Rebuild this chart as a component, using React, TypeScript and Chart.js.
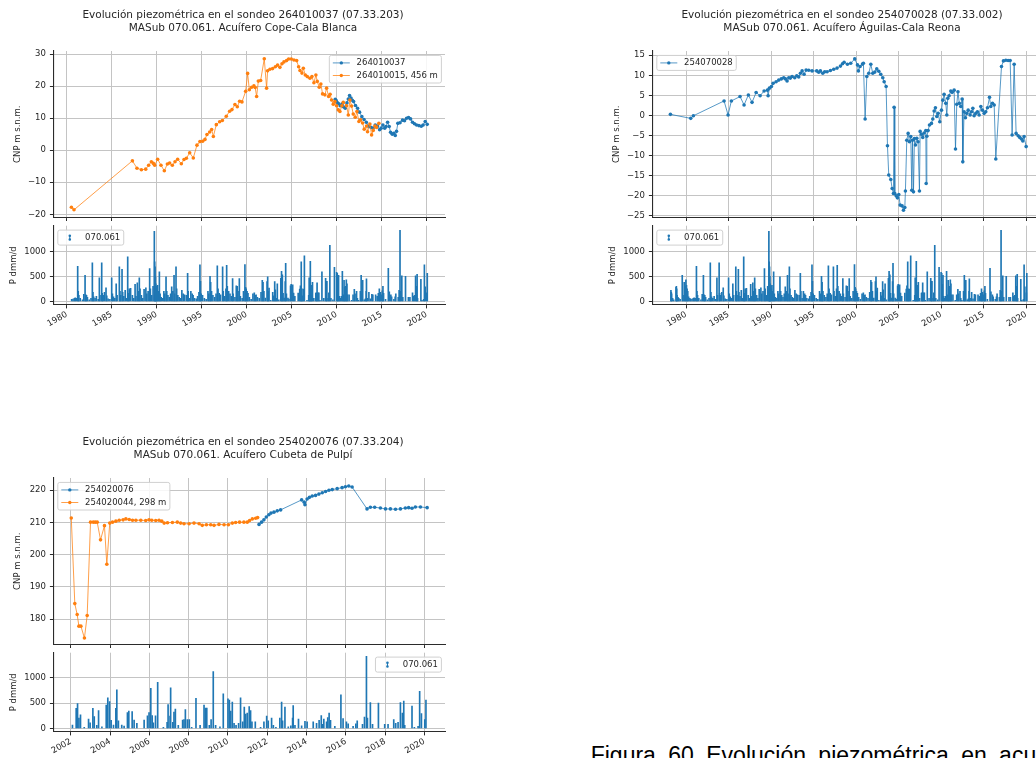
import React, { useEffect, useRef } from 'react';
import { Chart, registerables } from 'chart.js';

Chart.register(...registerables);

type Pt = [number, number];

// ---------- colours / fonts ----------
const BLUE = '#1f77b4';
const ORANGE = '#ff7f0e';
const BLUE_LINE = 'rgba(31,119,180,0.75)';
const ORANGE_LINE = 'rgba(255,127,14,0.75)';
const TXT = '#262626';
const GRID = '#c4c4c4';
const SPINE = '#2b2b2b';
const FONT = '"DejaVu Sans", sans-serif';
const FS = 8.5;

// ---------- titles ----------
const TITLE_1 = ['Evolución piezométrica en el sondeo 264010037 (07.33.203)', 'MASub 070.061. Acuífero Cope-Cala Blanca'];
const TITLE_2 = ['Evolución piezométrica en el sondeo 254070028 (07.33.002)', 'MASub 070.061. Acuífero Águilas-Cala Reona'];
const TITLE_3 = ['Evolución piezométrica en el sondeo 254020076 (07.33.204)', 'MASub 070.061. Acuífero Cubeta de Pulpí'];
const Y_LABEL_CNP = 'CNP m s.n.m.';
const Y_LABEL_P = 'P dmm/d';
const RAIN_LABEL = '070.061';
const CAPTION = 'Figura 60 Evolución piezométrica en acuíferos';

// ---------- tick values ----------
const P_TICKS = [0, 500, 1000];

// ---------- piezometric series (decimal year, CNP m s.n.m.) ----------
const S_264010037: Pt[] = [
  [2009.85, 15.9], [2009.95, 15.5], [2010.05, 15.0], [2010.2, 14.6], [2010.4, 13.9], [2010.59, 14.4], [2010.75, 13.6],
  [2010.96, 13.1], [2011.15, 14.8], [2011.3, 16.0], [2011.44, 17.1], [2011.6, 16.3], [2011.75, 15.6], [2011.89, 15.2],
  [2012.1, 14.0], [2012.33, 13.1], [2012.55, 11.9], [2012.81, 10.5], [2013.05, 9.6], [2013.3, 8.75], [2013.55, 7.5],
  [2013.8, 7.2], [2014.04, 6.9], [2014.3, 7.9], [2014.55, 7.6], [2014.78, 6.4], [2014.95, 6.9], [2015.15, 7.9],
  [2015.35, 6.9], [2015.5, 7.4], [2015.67, 8.75], [2015.85, 7.4], [2016.0, 5.6], [2016.19, 5.0], [2016.35, 5.3],
  [2016.52, 4.6], [2016.66, 5.9], [2016.81, 8.4], [2017.05, 8.6], [2017.33, 9.4], [2017.55, 9.2], [2017.78, 10.0],
  [2018.0, 10.2], [2018.22, 9.8], [2018.44, 8.75], [2018.66, 8.3], [2018.89, 7.9], [2019.15, 7.7], [2019.41, 7.5],
  [2019.62, 7.9], [2019.85, 9.0], [2020.07, 8.1],
];

const S_264010015: Pt[] = [
  [1980.52, -17.8], [1980.81, -18.6], [1987.3, -3.3], [1987.81, -5.6], [1988.3, -6.1], [1988.78, -5.9], [1989.11, -4.7],
  [1989.41, -3.6], [1989.63, -4.1], [1989.78, -4.7], [1990.11, -2.8], [1990.48, -4.7], [1990.85, -6.4], [1991.19, -4.3],
  [1991.44, -4.0], [1991.74, -4.7], [1992.04, -3.6], [1992.33, -2.8], [1992.74, -4.2], [1993.04, -2.9], [1993.3, -2.5],
  [1993.67, -0.8], [1994.07, -2.4], [1994.48, 1.6], [1994.81, 2.7], [1995.11, 2.8], [1995.37, 3.4], [1995.59, 4.9],
  [1995.89, 5.7], [1996.11, 6.5], [1996.3, 4.3], [1996.63, 8.0], [1997.0, 8.9], [1997.3, 9.3], [1997.74, 10.6],
  [1998.11, 12.2], [1998.37, 12.7], [1998.7, 14.3], [1998.96, 13.6], [1999.22, 15.3], [1999.48, 15.1], [1999.89, 18.4],
  [2000.11, 24.0], [2000.3, 18.9], [2000.56, 19.7], [2000.81, 20.1], [2000.95, 19.6], [2001.11, 16.8], [2001.3, 21.6],
  [2001.56, 21.8], [2001.96, 28.6], [2002.22, 19.4], [2002.33, 24.8], [2002.59, 25.3], [2002.89, 25.5], [2003.19, 26.1],
  [2003.44, 26.6], [2003.7, 25.9], [2003.93, 27.0], [2004.15, 27.6], [2004.44, 28.0], [2004.67, 28.5], [2004.96, 28.5],
  [2005.26, 28.2], [2005.56, 28.0], [2005.78, 26.1], [2005.93, 24.9], [2006.15, 24.1], [2006.3, 25.6], [2006.52, 23.5],
  [2006.74, 23.0], [2007.04, 22.5], [2007.26, 23.0], [2007.48, 21.1], [2007.7, 23.5], [2007.85, 21.5], [2008.07, 19.7],
  [2008.25, 20.7], [2008.44, 17.6], [2008.7, 17.3], [2008.89, 19.4], [2009.11, 16.8], [2009.28, 17.5], [2009.44, 15.7],
  [2009.63, 14.4], [2009.81, 15.2], [2010.0, 13.9], [2010.19, 12.6], [2010.37, 12.1], [2010.59, 13.9], [2010.74, 15.0],
  [2011.11, 13.9], [2011.3, 11.0], [2011.48, 15.7], [2011.67, 13.8], [2011.85, 11.3], [2012.07, 10.3], [2012.26, 12.1],
  [2012.48, 9.0], [2012.67, 9.5], [2012.89, 8.5], [2013.07, 6.6], [2013.33, 7.6], [2013.44, 5.8], [2013.7, 8.2],
  [2013.89, 4.8], [2014.07, 6.2], [2014.26, 7.6], [2014.44, 7.1], [2014.7, 8.4],
];

const S_254070028: Pt[] = [
  [1978.16, 0.25], [1980.55, -0.75], [1980.86, -0.1], [1984.47, 3.6], [1984.94, 0.1], [1985.33, 3.6], [1986.35, 4.7],
  [1986.82, 2.6], [1987.33, 5.1], [1987.76, 3.25], [1988.24, 5.7], [1988.71, 4.9], [1989.18, 6.1], [1989.57, 6.3],
  [1989.65, 4.9], [1989.8, 6.8], [1990.04, 7.2], [1990.24, 8.0], [1990.59, 8.4], [1990.9, 8.8], [1991.2, 9.1],
  [1991.49, 9.4], [1991.69, 9.1], [1991.88, 8.6], [1992.08, 9.4], [1992.27, 9.3], [1992.47, 9.7], [1992.78, 9.4],
  [1993.02, 9.9], [1993.25, 9.6], [1993.45, 10.5], [1993.65, 11.1], [1993.88, 10.25], [1994.12, 11.3], [1994.43, 11.25],
  [1994.82, 11.1], [1995.37, 11.1], [1995.6, 10.75], [1995.8, 11.1], [1996.08, 10.5], [1996.31, 10.9], [1996.59, 10.9],
  [1996.98, 11.2], [1997.37, 11.5], [1997.76, 11.8], [1998.16, 12.3], [1998.4, 12.9], [1998.59, 13.25], [1998.98, 12.75],
  [1999.37, 13.0], [1999.84, 14.1], [2000.16, 12.6], [2000.27, 11.1], [2000.47, 12.2], [2000.75, 12.8], [2000.86, 13.0],
  [2001.06, -0.9], [2001.26, 9.7], [2001.49, 10.5], [2001.73, 12.75], [2001.96, 10.5], [2002.2, 10.8], [2002.43, 11.6],
  [2002.67, 11.0], [2002.9, 10.25], [2003.14, 9.4], [2003.3, 8.4], [2003.53, 7.2], [2003.69, -7.6], [2003.84, -14.9],
  [2004.08, -16.0], [2004.24, -18.25], [2004.39, -19.5], [2004.47, 2.0], [2004.55, -19.5], [2004.71, -20.1],
  [2004.86, -20.6], [2005.02, -19.75], [2005.18, -22.4], [2005.41, -22.6], [2005.57, -23.7], [2005.73, -23.0],
  [2005.8, -18.9], [2005.96, -6.2], [2006.12, -4.5], [2006.27, -6.6], [2006.43, -5.3], [2006.55, -18.7], [2006.63, -6.2],
  [2006.75, -19.1], [2006.86, -5.8], [2006.98, -7.4], [2007.14, -5.7], [2007.29, -6.6], [2007.45, -18.9], [2007.53, -4.0],
  [2007.69, -4.7], [2007.84, -5.5], [2008.0, -4.4], [2008.2, -3.8], [2008.24, -17.0], [2008.32, -5.2], [2008.47, -3.8],
  [2008.63, -2.4], [2008.86, -2.0], [2009.02, -0.9], [2009.18, 1.1], [2009.33, 1.9], [2009.49, -0.3], [2009.65, 0.5],
  [2009.84, -1.6], [2010.04, 1.3], [2010.2, 3.8], [2010.35, 5.25], [2010.55, 3.0], [2010.67, 0.1], [2010.78, 4.25],
  [2010.94, 4.9], [2011.14, 6.1], [2011.29, 5.75], [2011.53, 6.3], [2011.69, -8.4], [2011.84, 2.75], [2011.98, 5.9],
  [2012.14, 3.0], [2012.31, 2.2], [2012.47, 4.1], [2012.55, -11.6], [2012.7, 0.9], [2012.86, -0.6], [2013.02, 0.5],
  [2013.18, 1.3], [2013.41, 0.1], [2013.57, 0.9], [2013.73, 1.75], [2013.88, -0.1], [2014.08, 0.5], [2014.27, 0.9],
  [2014.47, 0.1], [2014.67, 2.2], [2014.86, 1.3], [2015.06, 0.5], [2015.25, 0.9], [2015.45, 1.9], [2015.69, 4.5],
  [2015.84, 2.2], [2016.04, 3.0], [2016.24, 2.6], [2016.43, -10.9], [2017.1, 12.2], [2017.33, 13.6], [2017.61, 13.75],
  [2017.88, 13.7], [2018.12, 13.7], [2018.35, -4.9], [2018.59, 12.75], [2018.82, -4.5], [2019.06, -5.1], [2019.25, -5.5],
  [2019.45, -5.9], [2019.61, -6.4], [2019.76, -5.3], [2020.0, -7.8],
];

const S_254020076: Pt[] = [
  [2011.58, 209.4], [2011.71, 210.1], [2011.83, 210.8], [2011.95, 211.7], [2012.08, 212.4], [2012.19, 212.9],
  [2012.34, 213.2], [2012.51, 213.6], [2012.68, 213.9], [2013.75, 217.0], [2013.88, 216.3], [2013.92, 215.5],
  [2014.03, 217.3], [2014.15, 217.8], [2014.29, 218.2], [2014.46, 218.4], [2014.63, 218.8], [2014.8, 219.2],
  [2014.97, 219.6], [2015.14, 220.0], [2015.31, 220.2], [2015.56, 220.5], [2015.81, 220.8], [2015.98, 221.1],
  [2016.15, 221.3], [2016.32, 221.0], [2017.08, 214.2], [2017.25, 214.7], [2017.47, 214.7], [2017.76, 214.5],
  [2018.02, 214.2], [2018.27, 214.2], [2018.53, 214.1], [2018.78, 214.2], [2019.03, 214.5], [2019.2, 214.6],
  [2019.37, 214.4], [2019.54, 214.8], [2019.8, 214.8], [2020.14, 214.6],
];

const S_254020044: Pt[] = [
  [2002.02, 211.4], [2002.2, 184.8], [2002.32, 181.4], [2002.41, 177.8], [2002.51, 177.8], [2002.69, 174.1],
  [2002.83, 181.1], [2003.0, 210.1], [2003.14, 210.1], [2003.24, 210.1], [2003.34, 210.1], [2003.51, 204.6],
  [2003.71, 209.0], [2003.83, 197.0], [2003.98, 209.8], [2004.12, 210.1], [2004.29, 210.4], [2004.46, 210.7],
  [2004.66, 210.8], [2004.8, 211.1], [2004.97, 210.9], [2005.14, 210.7], [2005.31, 210.7], [2005.56, 210.7],
  [2005.81, 210.6], [2005.98, 210.8], [2006.12, 210.7], [2006.32, 210.6], [2006.49, 210.7], [2006.63, 210.4],
  [2006.75, 209.8], [2006.92, 209.9], [2007.17, 210.0], [2007.42, 210.1], [2007.59, 209.8], [2007.76, 209.6],
  [2008.02, 209.6], [2008.27, 209.8], [2008.53, 209.6], [2008.69, 209.1], [2008.9, 209.3], [2009.12, 209.3],
  [2009.29, 209.1], [2009.54, 209.4], [2009.8, 209.3], [2010.02, 209.3], [2010.22, 209.8], [2010.39, 210.0],
  [2010.59, 210.1], [2010.81, 210.1], [2010.98, 210.1], [2011.1, 210.6], [2011.24, 211.1], [2011.41, 211.3],
  [2011.51, 211.5],
];

// ---------- precipitation 070.061 (decimal year, dmm/d) ----------
const RAIN_070061: Pt[] = [
  [1978.22, 220], [1978.26, 180], [1978.3, 150], [1978.42, 60], [1978.55, 30], [1978.82, 280], [1978.86, 300], [1978.9, 250], [1978.95, 120],
  [1979.05, 80], [1979.15, 60], [1979.3, 40], [1979.55, 520], [1979.65, 120], [1979.78, 380], [1979.88, 300], [1979.98, 430],
  [1980.05, 320], [1980.12, 250], [1980.2, 200], [1980.3, 90], [1980.45, 60], [1980.55, 40], [1980.7, 45], [1980.85, 60], [1980.95, 70],
  [1981.08, 60], [1981.22, 700], [1981.28, 200], [1981.35, 120], [1981.5, 60], [1981.75, 30], [1981.9, 140],
  [1982.04, 520], [1982.12, 130], [1982.2, 120], [1982.3, 80], [1982.5, 30], [1982.7, 60], [1982.85, 770], [1982.92, 180],
  [1983.0, 90], [1983.15, 60], [1983.3, 100], [1983.5, 40], [1983.63, 470], [1983.7, 120], [1983.89, 770], [1983.95, 160],
  [1984.05, 120], [1984.2, 180], [1984.37, 270], [1984.45, 110], [1984.6, 50], [1984.8, 40],
  [1985.0, 470], [1985.08, 150], [1985.2, 90], [1985.35, 60], [1985.5, 350], [1985.6, 120], [1985.85, 690], [1985.92, 200],
  [1986.0, 120], [1986.15, 640], [1986.22, 180], [1986.35, 100], [1986.5, 220], [1986.65, 60], [1986.78, 890], [1986.85, 160], [1986.95, 250],
  [1987.1, 260], [1987.3, 120], [1987.45, 60], [1987.6, 340], [1987.7, 100], [1987.85, 370], [1987.95, 200],
  [1988.07, 470], [1988.15, 250], [1988.3, 120], [1988.45, 60], [1988.6, 240], [1988.8, 270], [1988.9, 150],
  [1989.05, 200], [1989.22, 655], [1989.3, 250], [1989.45, 120], [1989.6, 300], [1989.74, 1400], [1989.78, 790], [1989.82, 690], [1989.86, 500], [1989.9, 350], [1989.95, 300],
  [1990.02, 250], [1990.1, 320], [1990.2, 200], [1990.3, 590], [1990.38, 150], [1990.5, 80], [1990.65, 60], [1990.8, 200], [1990.9, 150],
  [1991.04, 490], [1991.12, 200], [1991.25, 120], [1991.4, 80], [1991.55, 150], [1991.67, 290], [1991.8, 200], [1991.93, 520],
  [1992.0, 150], [1992.15, 690], [1992.22, 250], [1992.35, 120], [1992.5, 80], [1992.65, 60], [1992.8, 220], [1992.95, 150],
  [1993.1, 130], [1993.3, 120], [1993.44, 560], [1993.5, 200], [1993.65, 60], [1993.8, 200], [1993.95, 150],
  [1994.05, 120], [1994.2, 60], [1994.4, 50], [1994.55, 100], [1994.7, 180], [1994.81, 730], [1994.87, 400], [1994.95, 150],
  [1995.1, 120], [1995.3, 60], [1995.5, 40], [1995.7, 200], [1995.8, 150], [1995.93, 500],
  [1996.0, 380], [1996.1, 200], [1996.25, 120], [1996.45, 80], [1996.6, 150], [1996.74, 710], [1996.82, 250], [1996.95, 160],
  [1997.1, 130], [1997.33, 690], [1997.4, 200], [1997.55, 100], [1997.7, 250], [1997.78, 720], [1997.85, 300],
  [1998.0, 200], [1998.15, 150], [1998.3, 100], [1998.44, 455], [1998.5, 150], [1998.7, 80], [1998.85, 310], [1998.95, 300],
  [1999.05, 200], [1999.19, 455], [1999.3, 100], [1999.5, 60], [1999.65, 200], [1999.81, 735], [1999.88, 280], [1999.95, 250],
  [2000.05, 200], [2000.15, 160], [2000.3, 80], [2000.5, 40], [2000.7, 150], [2000.85, 170], [2000.95, 120],
  [2001.05, 130], [2001.2, 80], [2001.4, 60], [2001.6, 180], [2001.74, 420], [2001.82, 380], [2001.92, 200],
  [2002.08, 65], [2002.27, 395], [2002.34, 490], [2002.41, 200], [2002.49, 265], [2002.68, 20], [2002.9, 180], [2002.98, 110],
  [2003.12, 395], [2003.19, 230], [2003.32, 60], [2003.41, 350], [2003.58, 30], [2003.8, 460], [2003.88, 600], [2003.97, 530],
  [2004.05, 160], [2004.17, 65], [2004.29, 395], [2004.34, 760], [2004.42, 150], [2004.59, 65], [2004.71, 45], [2004.88, 310], [2004.95, 340],
  [2005.12, 330], [2005.22, 165], [2005.36, 100], [2005.73, 165], [2005.9, 245], [2005.98, 310],
  [2006.07, 790], [2006.14, 250], [2006.2, 110], [2006.31, 245], [2006.42, 910], [2006.71, 20], [2006.9, 120], [2006.95, 470],
  [2007.05, 240], [2007.08, 800], [2007.19, 120], [2007.25, 320], [2007.32, 380], [2007.47, 60], [2007.69, 165], [2007.76, 170], [2007.83, 370], [2007.93, 170],
  [2008.03, 170], [2008.15, 20], [2008.37, 590], [2008.58, 60], [2008.78, 460], [2008.85, 400], [2008.92, 400],
  [2009.05, 60], [2009.14, 170], [2009.25, 1120], [2009.37, 60], [2009.59, 30], [2009.76, 680],
  [2010.0, 580], [2010.07, 560], [2010.14, 340], [2010.22, 520], [2010.31, 100], [2010.41, 60], [2010.54, 100], [2010.64, 600], [2010.75, 130], [2010.83, 420], [2010.9, 280], [2010.98, 300],
  [2011.08, 430], [2011.15, 350], [2011.22, 130], [2011.39, 130], [2011.66, 20], [2011.83, 130], [2011.97, 240],
  [2012.05, 150], [2012.22, 200], [2012.31, 60], [2012.44, 20], [2012.64, 200], [2012.73, 520], [2012.78, 150], [2012.9, 420],
  [2013.07, 30], [2013.2, 50], [2013.29, 200], [2013.32, 450], [2013.41, 60], [2013.59, 180], [2013.75, 50], [2013.92, 140],
  [2014.03, 130], [2014.34, 130], [2014.51, 100], [2014.64, 160], [2014.75, 250], [2014.81, 80], [2014.88, 180],
  [2015.02, 130], [2015.08, 210], [2015.15, 300], [2015.22, 160], [2015.44, 40], [2015.75, 660], [2015.86, 190],
  [2016.03, 130], [2016.12, 90], [2016.37, 40], [2016.51, 90], [2016.58, 150], [2016.85, 80], [2016.95, 220],
  [2017.05, 1420], [2017.1, 200], [2017.25, 510], [2017.36, 80], [2017.66, 500], [2017.98, 80],
  [2018.15, 80], [2018.44, 170], [2018.54, 100], [2018.66, 120], [2018.78, 510], [2018.88, 300], [2018.95, 540],
  [2019.0, 60], [2019.37, 440], [2019.49, 20], [2019.68, 40], [2019.76, 730], [2019.85, 290], [2020.02, 170], [2020.08, 560],
];

// ---------- helpers ----------
const toXY = (pts: Pt[]) => pts.map(([x, y]) => ({ x, y }));
const fmtNum = (v: any) => {
  const n = Number(v);
  return n < 0 ? '\u2212' + String(Math.abs(n)) : String(n);
};

const mplLegend = {
  id: 'mplLegend',
  afterDraw(chart: any, _args: any, opts: any) {
    if (!opts || !opts.show) return;
    const ctx = chart.ctx as CanvasRenderingContext2D;
    const area = chart.chartArea;
    ctx.save();
    ctx.font = `${FS}px ${FONT}`;
    const items = chart.data.datasets.map((d: any) => ({
      label: String(d.label),
      color: (d.pointBackgroundColor || d.backgroundColor) as string,
      line: (d.borderColor || d.backgroundColor) as string,
    }));
    const pad = 3.5, handle = 17, gap = 6.8, row = 12.6;
    const tw = Math.max(...items.map((i: any) => ctx.measureText(i.label).width));
    const w = pad * 2 + handle + gap + tw;
    const h = 2.4 + row * items.length;
    const x = opts.align === 'right' ? area.right - 3.6 - w : area.left + 4.4;
    const y = area.top + 4.4;
    ctx.beginPath();
    (ctx as any).roundRect(x, y, w, h, 2);
    ctx.fillStyle = 'rgba(255,255,255,0.85)';
    ctx.fill();
    ctx.strokeStyle = '#d0d0d0';
    ctx.lineWidth = 1;
    ctx.stroke();
    items.forEach((it: any, i: number) => {
      const cy = y + 1.2 + row * (i + 0.5);
      const hx = x + pad;
      const mx = hx + handle / 2;
      if (opts.kind === 'line') {
        ctx.strokeStyle = it.line;
        ctx.lineWidth = 1;
        ctx.beginPath();
        ctx.moveTo(hx, cy);
        ctx.lineTo(hx + handle, cy);
        ctx.stroke();
        ctx.fillStyle = it.color;
        ctx.beginPath();
        ctx.arc(mx, cy, 1.7, 0, Math.PI * 2);
        ctx.fill();
      } else {
        ctx.fillStyle = it.color;
        ctx.strokeStyle = it.color;
        ctx.lineWidth = 1;
        ctx.beginPath();
        ctx.moveTo(mx, cy - 2);
        ctx.lineTo(mx, cy + 2);
        ctx.stroke();
        ctx.beginPath();
        ctx.arc(mx, cy - 1.9, 1.3, 0, Math.PI * 2);
        ctx.arc(mx, cy + 1.9, 1.3, 0, Math.PI * 2);
        ctx.fill();
      }
      ctx.fillStyle = TXT;
      ctx.textAlign = 'left';
      ctx.textBaseline = 'middle';
      ctx.fillText(it.label, hx + handle + gap, cy);
    });
    ctx.restore();
  },
};

const Y_AXIS_W = 53.4;
const RIGHT_GAP = 41;
const LINE_H = 222;
const BAR_H = 108;

function gridOpts() {
  return { color: GRID, lineWidth: 1, drawTicks: true, tickLength: 3.5, tickColor: SPINE, tickWidth: 1, offset: false };
}
function borderOpts() {
  return { display: true, color: SPINE, width: 1.1 };
}

function xScale(min: number, max: number, step: number, labels: boolean, h: number) {
  return {
    type: 'linear',
    position: 'bottom',
    offset: false,
    min,
    max,
    afterFit: (s: any) => {
      s.height = h;
      s.paddingLeft = 0;
      s.paddingRight = 0;
      s.paddingTop = 0;
      s.paddingBottom = 0;
    },
    grid: gridOpts(),
    border: borderOpts(),
    ticks: {
      display: labels,
      stepSize: step,
      includeBounds: false,
      autoSkip: false,
      minRotation: 30,
      maxRotation: 30,
      padding: 1,
      color: TXT,
      font: { family: FONT, size: FS },
      callback: (v: any) => String(v),
    },
  };
}

function yScale(min: number, max: number, step: number, title: string, titlePad: number, fixedTicks?: number[]) {
  return {
    type: 'linear',
    position: 'left',
    offset: false,
    min,
    max,
    afterBuildTicks: fixedTicks
      ? (s: any) => { s.ticks = fixedTicks.map((v) => ({ value: v })); }
      : undefined,
    afterFit: (s: any) => {
      s.width = Y_AXIS_W;
      s.paddingTop = 0;
      s.paddingBottom = 0;
      s.paddingLeft = 0;
      s.paddingRight = 0;
    },
    grid: gridOpts(),
    border: borderOpts(),
    ticks: {
      stepSize: step,
      includeBounds: false,
      padding: 4,
      color: TXT,
      font: { family: FONT, size: FS },
      callback: fmtNum,
    },
    title: {
      display: true,
      text: title,
      color: TXT,
      font: { family: FONT, size: FS },
      padding: { top: titlePad, bottom: 0 },
    },
  };
}

type Series = { label: string; color: string; line: string; pts: Pt[] };

type PanelSpec = {
  title: string[];
  xMin: number; xMax: number; xStep: number;
  yMin: number; yMax: number; yStep: number;
  series: Series[];
  lineLegend: 'left' | 'right';
  rainStart: number;
  pMin: number; pMax: number;
  barLegend: 'left' | 'right';
};

function lineConfig(p: PanelSpec): any {
  return {
    type: 'line',
    data: {
      datasets: p.series.map((s, i) => ({
        label: s.label,
        data: toXY(s.pts),
        borderColor: s.line,
        backgroundColor: s.color,
        pointBackgroundColor: s.color,
        pointBorderWidth: 0,
        pointRadius: 1.8,
        borderWidth: 1,
        tension: 0,
        fill: false,
        order: p.series.length - i,
      })),
    },
    options: {
      animation: false,
      responsive: false,
      devicePixelRatio: 1,
      layout: { padding: 0, autoPadding: false },
      plugins: {
        legend: { display: false },
        tooltip: { enabled: false },
        title: {
          display: true,
          text: p.title,
          color: TXT,
          font: { family: FONT, size: 10.5, weight: 'normal', lineHeight: 1.267 },
          padding: { top: 8.5, bottom: 15.9 },
        },
        mplLegend: { show: true, kind: 'line', align: p.lineLegend },
      },
      scales: {
        x: xScale(p.xMin, p.xMax, p.xStep, false, LINE_H - 217.5),
        y: yScale(p.yMin, p.yMax, p.yStep, Y_LABEL_CNP, 12.2),
        yR: {
          type: 'linear',
          position: 'right',
          display: true,
          afterFit: (s: any) => { s.width = RIGHT_GAP; s.paddingTop = 0; s.paddingBottom = 0; },
          grid: { display: false, drawTicks: false },
          border: { display: false },
          ticks: { display: false },
        },
      },
    },
    plugins: [mplLegend],
  };
}

function barConfig(p: PanelSpec): any {
  return {
    type: 'bar',
    data: {
      datasets: [{
        label: RAIN_LABEL,
        data: toXY(RAIN_070061.filter(([d]) => d >= p.rainStart)),
        backgroundColor: BLUE,
        borderWidth: 0,
        barThickness: 1,
      }],
    },
    options: {
      animation: false,
      responsive: false,
      devicePixelRatio: 1,
      layout: { padding: { top: 3.7, right: RIGHT_GAP, left: 0, bottom: 0 }, autoPadding: false },
      plugins: {
        legend: { display: false },
        tooltip: { enabled: false },
        mplLegend: { show: true, kind: 'bar', align: p.barLegend },
      },
      scales: {
        x: xScale(p.xMin, p.xMax, p.xStep, true, BAR_H - 82.9),
        y: yScale(p.pMin, p.pMax, 500, Y_LABEL_P, 8.9, P_TICKS),
      },
    },
    plugins: [mplLegend],
  };
}

const PANEL_1: PanelSpec = {
  title: TITLE_1,
  xMin: 1978.52, xMax: 2022.05, xStep: 5,
  yMin: -21.0, yMax: 31.0, yStep: 10,
  series: [
    { label: '264010037', color: BLUE, line: BLUE_LINE, pts: S_264010037 },
    { label: '264010015, 456 m', color: ORANGE, line: ORANGE_LINE, pts: S_264010015 },
  ],
  lineLegend: 'right',
  rainStart: 1980.5,
  pMin: -72, pMax: 1512,
  barLegend: 'left',
};

const PANEL_2: PanelSpec = {
  title: TITLE_2,
  xMin: 1976.04, xMax: 2022.1, xStep: 5,
  yMin: -25.5, yMax: 16.07, yStep: 5,
  series: [{ label: '254070028', color: BLUE, line: BLUE_LINE, pts: S_254070028 }],
  lineLegend: 'left',
  rainStart: 1978.0,
  pMin: -72, pMax: 1512,
  barLegend: 'left',
};

const PANEL_3: PanelSpec = {
  title: TITLE_3,
  xMin: 2001.11, xMax: 2021.05, xStep: 2,
  yMin: 172.1, yMax: 223.8, yStep: 10,
  series: [
    { label: '254020076', color: BLUE, line: BLUE_LINE, pts: S_254020076 },
    { label: '254020044, 298 m', color: ORANGE, line: ORANGE_LINE, pts: S_254020044 },
  ],
  lineLegend: 'left',
  rainStart: 2002.0,
  pMin: -71, pMax: 1494,
  barLegend: 'right',
};

function ChartCanvas(props: { make: () => any; left: number; top: number; width: number; height: number }) {
  const ref = useRef<HTMLCanvasElement>(null);
  useEffect(() => {
    const chart = new Chart(ref.current as HTMLCanvasElement, props.make());
    return () => chart.destroy();
  }, []);
  return (
    <canvas
      ref={ref}
      width={props.width}
      height={props.height}
      style={{ position: 'absolute', left: props.left, top: props.top, width: props.width, height: props.height }}
    />
  );
}

function Panel(props: { spec: PanelSpec; left: number; top: number }) {
  const { spec, left, top } = props;
  return (
    <>
      <ChartCanvas make={() => lineConfig(spec)} left={left} top={top} width={486} height={LINE_H} />
      <ChartCanvas make={() => barConfig(spec)} left={left} top={top + LINE_H} width={486} height={BAR_H} />
    </>
  );
}

export default function App() {
  return (
    <div
      style={{
        position: 'absolute',
        left: 0,
        top: 0,
        width: 1036,
        height: 758,
        overflow: 'hidden',
        background: '#ffffff',
      }}
    >
      <Panel spec={PANEL_1} left={0} top={0} />
      <Panel spec={PANEL_2} left={598.7} top={0} />
      <Panel spec={PANEL_3} left={0} top={427} />
      <div
        style={{
          position: 'absolute',
          left: 590.7,
          top: 744,
          fontFamily: '"Liberation Sans", Arial, sans-serif',
          fontSize: 23,
          lineHeight: '22px',
          whiteSpace: 'nowrap',
          wordSpacing: 6,
          color: '#000000',
        }}
      >
        {CAPTION}
      </div>
    </div>
  );
}
